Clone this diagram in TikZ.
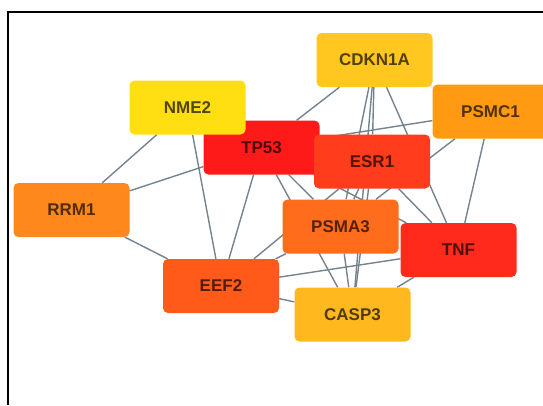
\documentclass[tikz,border=0pt]{standalone}
\usepackage{fontspec}
\setmainfont{Liberation Sans}
\usetikzlibrary{backgrounds}
\definecolor{cNME}{HTML}{FFDE12}
\definecolor{cCDK}{HTML}{FFC71F}
\definecolor{cCASP}{HTML}{FFB81E}
\definecolor{cPSMC}{HTML}{FF9A12}
\definecolor{cRRM}{HTML}{FF881C}
\definecolor{cPSMA}{HTML}{FF6C1C}
\definecolor{cEEF}{HTML}{FF5A1A}
\definecolor{cESR}{HTML}{FF3C1C}
\definecolor{cTNF}{HTML}{FF2A1C}
\definecolor{cTP}{HTML}{FF1A1A}
\definecolor{edgec}{HTML}{75838F}
\begin{document}
\begin{tikzpicture}[x=1pt,y=-1pt,
  gene/.style={rectangle, rounded corners=5pt, minimum width=116pt, minimum height=54pt,
    inner sep=0pt, font=\fontsize{17}{20}\selectfont\bfseries, fill=#1, text=#1!32!black},
  link/.style={draw=edgec, line width=1.4pt},
  frameline/.style={draw=black, line width=1.6pt}]
\useasboundingbox (0,0) rectangle (543,405);
\clip (0,0) rectangle (543,405);
\node[gene=cRRM]  (rrm1)   at (71.5,210)    {RRM1};
\node[gene=cTP]   (tp53)   at (261.5,147.5) {TP53};
\node[gene=cNME]  (nme2)   at (187.5,107.5) {NME2};
\node[gene=cCDK]  (cdkn1a) at (374.5,60)    {CDKN1A};
\node[gene=cPSMC] (psmc1)  at (490.5,111.5) {PSMC1};
\node[gene=cESR]  (esr1)   at (372,161.5)   {ESR1};
\node[gene=cPSMA] (psma3)  at (340.5,226.5) {PSMA3};
\node[gene=cTNF]  (tnf)    at (458.5,250)   {TNF};
\node[gene=cEEF]  (eef2)   at (221,286)     {EEF2};
\node[gene=cCASP] (casp3)  at (352.5,314.5) {CASP3};
\coordinate (fa) at (8,405);
\coordinate (fb) at (8,12);
\coordinate (fc) at (543,12);
\draw[frameline] (fa) -- (fb) -- (fc);
\begin{pgfonlayer}{background}
\fill[white] (0,0) rectangle (543,405);
\draw[link] (nme2) -- (rrm1);
\draw[link] (nme2) -- (eef2);
\draw[link] (rrm1) -- (tp53);
\draw[link] (rrm1) -- (eef2);
\draw[link] (tp53) -- (cdkn1a);
\draw[link] (tp53) -- (eef2);
\draw[link] (tp53) -- (psma3);
\draw[link] (tp53) -- (casp3);
\draw[link] (tp53) -- (tnf);
\draw[link] (tp53) -- (psmc1);
\draw[link] (cdkn1a) -- (esr1);
\draw[link] (cdkn1a) -- (psma3);
\draw[link] (cdkn1a) -- (casp3);
\draw[link] (cdkn1a) -- (tnf);
\draw[link] (psmc1) -- (psma3);
\draw[link] (psmc1) -- (tnf);
\draw[link] (esr1) -- (tnf);
\draw[link] (esr1) -- (eef2);
\draw[link] (esr1) -- (casp3);
\draw[link] (esr1) -- (psma3);
\draw[link] (eef2) -- (psma3);
\draw[link] (eef2) -- (tnf);
\draw[link] (eef2) -- (casp3);
\draw[link] (tnf) -- (casp3);
\draw[link] (psma3) -- (casp3);
\end{pgfonlayer}
\end{tikzpicture}
\end{document}
